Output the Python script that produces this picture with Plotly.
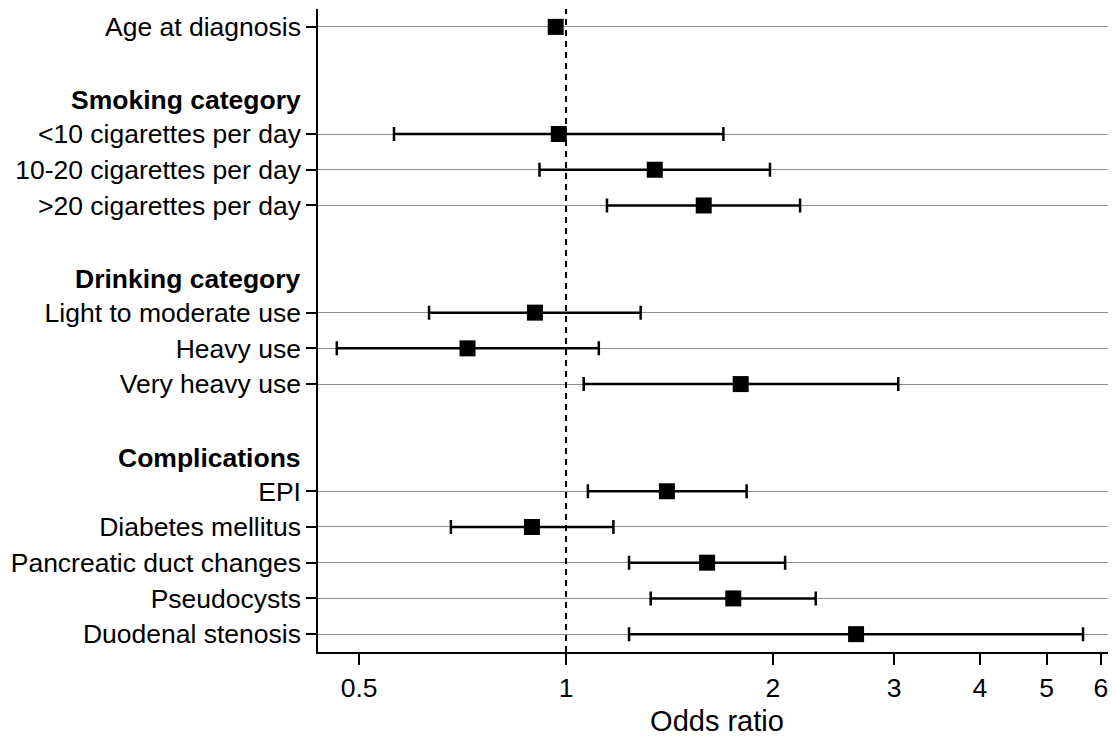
import math
import plotly.graph_objects as go

# ---- data ----
sections = ["", "Smoking category", "Drinking category", "Complications"]
section_items = [
    ["Age at diagnosis"],
    ["<10 cigarettes per day", "10-20 cigarettes per day", ">20 cigarettes per day"],
    ["Light to moderate use", "Heavy use", "Very heavy use"],
    ["EPI", "Diabetes mellitus", "Pancreatic duct changes", "Pseudocysts", "Duodenal stenosis"],
]
odds_ratio = [0.966, 0.976, 1.346, 1.586, 0.901, 0.719, 1.795, 1.402, 0.892, 1.604, 1.751, 2.642]
ci_low = [0.955, 0.562, 0.915, 1.147, 0.632, 0.464, 1.061, 1.076, 0.680, 1.235, 1.328, 1.235]
ci_high = [0.978, 1.694, 1.980, 2.190, 1.284, 1.116, 3.043, 1.831, 1.172, 2.083, 2.308, 5.65]
x_ticks = [0.5, 1, 2, 3, 4, 5, 6]
x_ticklabels = ["0.5", "1", "2", "3", "4", "5", "6"]
x_title = "Odds ratio"

# ---- build row layout from sections ----
labels, rows, header_rows = [], [], []
r = 0
for si, (head, items) in enumerate(zip(sections, section_items)):
    if si > 0:
        r += 1  # blank spacer row
    if head:
        header_rows.append((head, r))
        r += 1
    for it in items:
        labels.append(it)
        rows.append(r)
        r += 1
n_rows = r


def esc(s):
    return s.replace("<", "&lt;").replace(">", "&gt;")


FONT = "Liberation Sans, Arial, Helvetica, sans-serif"
LABEL_SIZE = 26.5

fig = go.Figure()
fig.add_trace(go.Scatter(
    x=odds_ratio,
    y=rows,
    mode="markers",
    marker=dict(symbol="square", size=16, color="black"),
    error_x=dict(
        type="data", symmetric=False,
        array=[h - o for h, o in zip(ci_high, odds_ratio)],
        arrayminus=[o - l for o, l in zip(odds_ratio, ci_low)],
        color="black", thickness=2.5, width=7,
    ),
    hoverinfo="skip",
))

fig.add_shape(type="line", xref="x", yref="paper", x0=1, x1=1, y0=0, y1=1,
              line=dict(color="black", width=2, dash="6px,5px"))

for head, hr in header_rows:
    fig.add_annotation(xref="paper", yref="y", x=0, y=hr, xanchor="right",
                       xshift=-15, yshift=-2, showarrow=False,
                       text="<b>" + head + "</b>",
                       font=dict(size=LABEL_SIZE, color="black", family=FONT))

# page body has an 8px margin, so the figure is 8px smaller than the window
fig.update_layout(
    width=1108, height=730,
    margin=dict(l=310, r=0, t=1, b=86, autoexpand=False),
    plot_bgcolor="white", paper_bgcolor="white",
    showlegend=False,
    font=dict(family=FONT, color="black", size=LABEL_SIZE),
    xaxis=dict(
        type="log",
        range=[math.log10(0.4357), math.log10(6.31)],
        tickvals=x_ticks, ticktext=x_ticklabels,
        ticks="outside", ticklen=11, tickwidth=1.5, tickcolor="black",
        showline=True, linecolor="black", linewidth=1.5,
        showgrid=False, zeroline=False,
        tickfont=dict(size=LABEL_SIZE),
        title=dict(text=x_title, font=dict(size=29), standoff=9),
        automargin=False,
    ),
    yaxis=dict(
        range=[n_rows - 0.5, -0.5],
        tickvals=rows, ticktext=[esc(s) for s in labels],
        ticks="outside", ticklen=10, tickwidth=1.5, tickcolor="black",
        showline=True, linecolor="black", linewidth=1.5,
        showgrid=True, gridcolor="#8c8c8c", gridwidth=1,
        zeroline=False,
        tickfont=dict(size=LABEL_SIZE),
        automargin=False,
    ),
)

fig.write_html("out.html")
